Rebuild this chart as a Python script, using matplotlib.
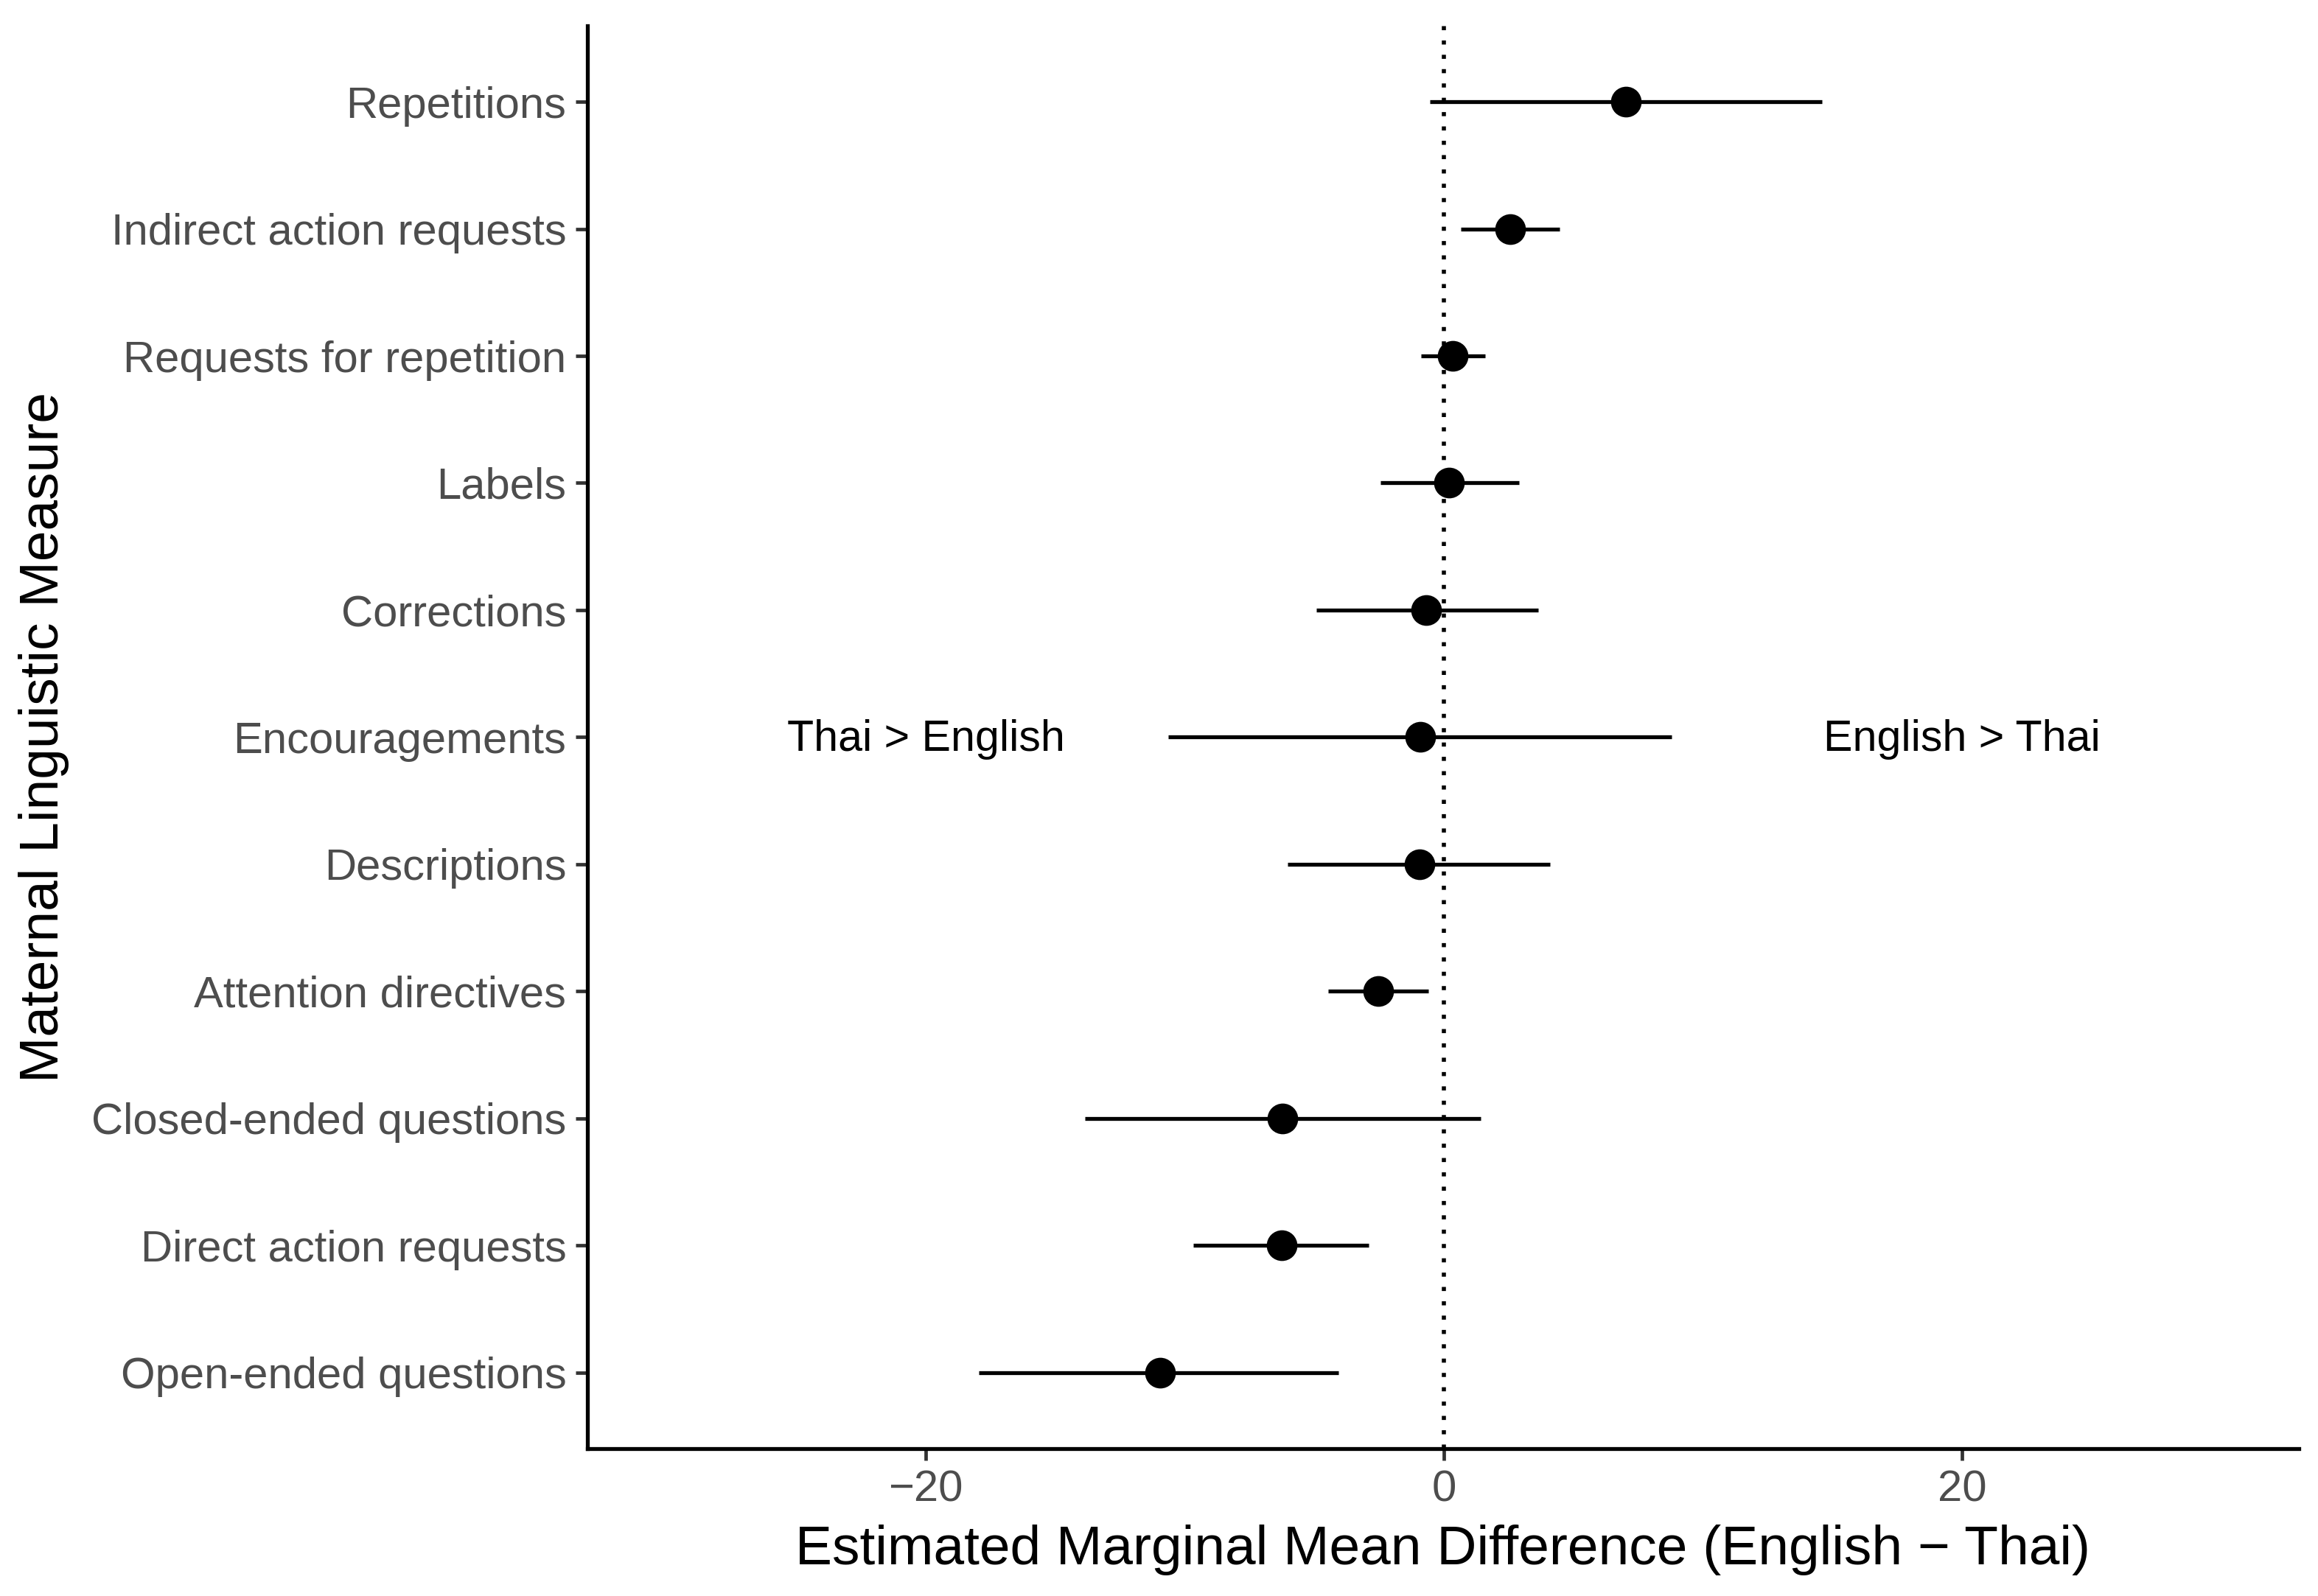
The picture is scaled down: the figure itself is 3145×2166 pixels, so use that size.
import matplotlib
matplotlib.use("Agg")
import matplotlib.pyplot as plt

plt.rcParams['font.family'] = ['Liberation Sans', 'DejaVu Sans']

measures = [
    "Open-ended questions",
    "Direct action requests",
    "Closed-ended questions",
    "Attention directives",
    "Descriptions",
    "Encouragements",
    "Corrections",
    "Labels",
    "Requests for repetition",
    "Indirect action requests",
    "Repetitions",
]
estimate = [-10.97, -6.27, -6.23, -2.55, -0.94, -0.92, -0.68, 0.19, 0.33, 2.55, 7.03]
lower = [-17.95, -9.67, -13.85, -4.48, -6.04, -10.66, -4.94, -2.45, -0.90, 0.66, -0.54]
upper = [-4.08, -2.90, 1.42, -0.61, 4.10, 8.80, 3.63, 2.90, 1.58, 4.46, 14.60]

x_ticks = [-20, 0, 20]
x_tick_labels = ["\u221220", "0", "20"]

fig = plt.figure(figsize=(15.725, 10.83), dpi=200)
ax = fig.add_axes([0.2534, 0.0923, 0.7383, 0.8917])

ypos = list(range(1, len(measures) + 1))

ax.axvline(0, color="black", linestyle=(0, (1, 2.5)), linewidth=2.0, zorder=1)
ax.hlines(ypos, lower, upper, color="black", linewidth=1.9, zorder=2)
ax.plot(estimate, ypos, "o", color="black", markersize=14, zorder=3)

ax.text(-20, 5.98, "Thai > English", ha="center", va="center", fontsize=21.3, color="black")
ax.text(20, 5.98, "English > Thai", ha="center", va="center", fontsize=21.3, color="black")

ax.set_xlim(-33.07, 33.0)
ax.set_ylim(0.4, len(measures) + 0.6)
ax.set_xticks(x_ticks)
ax.set_xticklabels(x_tick_labels)
ax.set_yticks(ypos)
ax.set_yticklabels(measures)

for side in ["top", "right"]:
    ax.spines[side].set_visible(False)
for side in ["left", "bottom"]:
    ax.spines[side].set_linewidth(1.9)
    ax.spines[side].set_color("black")

ax.tick_params(axis="both", length=5.8, width=1.7, color="#333333",
               labelcolor="#4D4D4D", labelsize=21.5, pad=4.5)

ax.set_xlabel("Estimated Marginal Mean Difference (English \u2212 Thai)", fontsize=27, labelpad=7)
ax.set_ylabel("Maternal Linguistic Measure", fontsize=27, labelpad=11)

fig.savefig("out.png", dpi=200, facecolor="white")
